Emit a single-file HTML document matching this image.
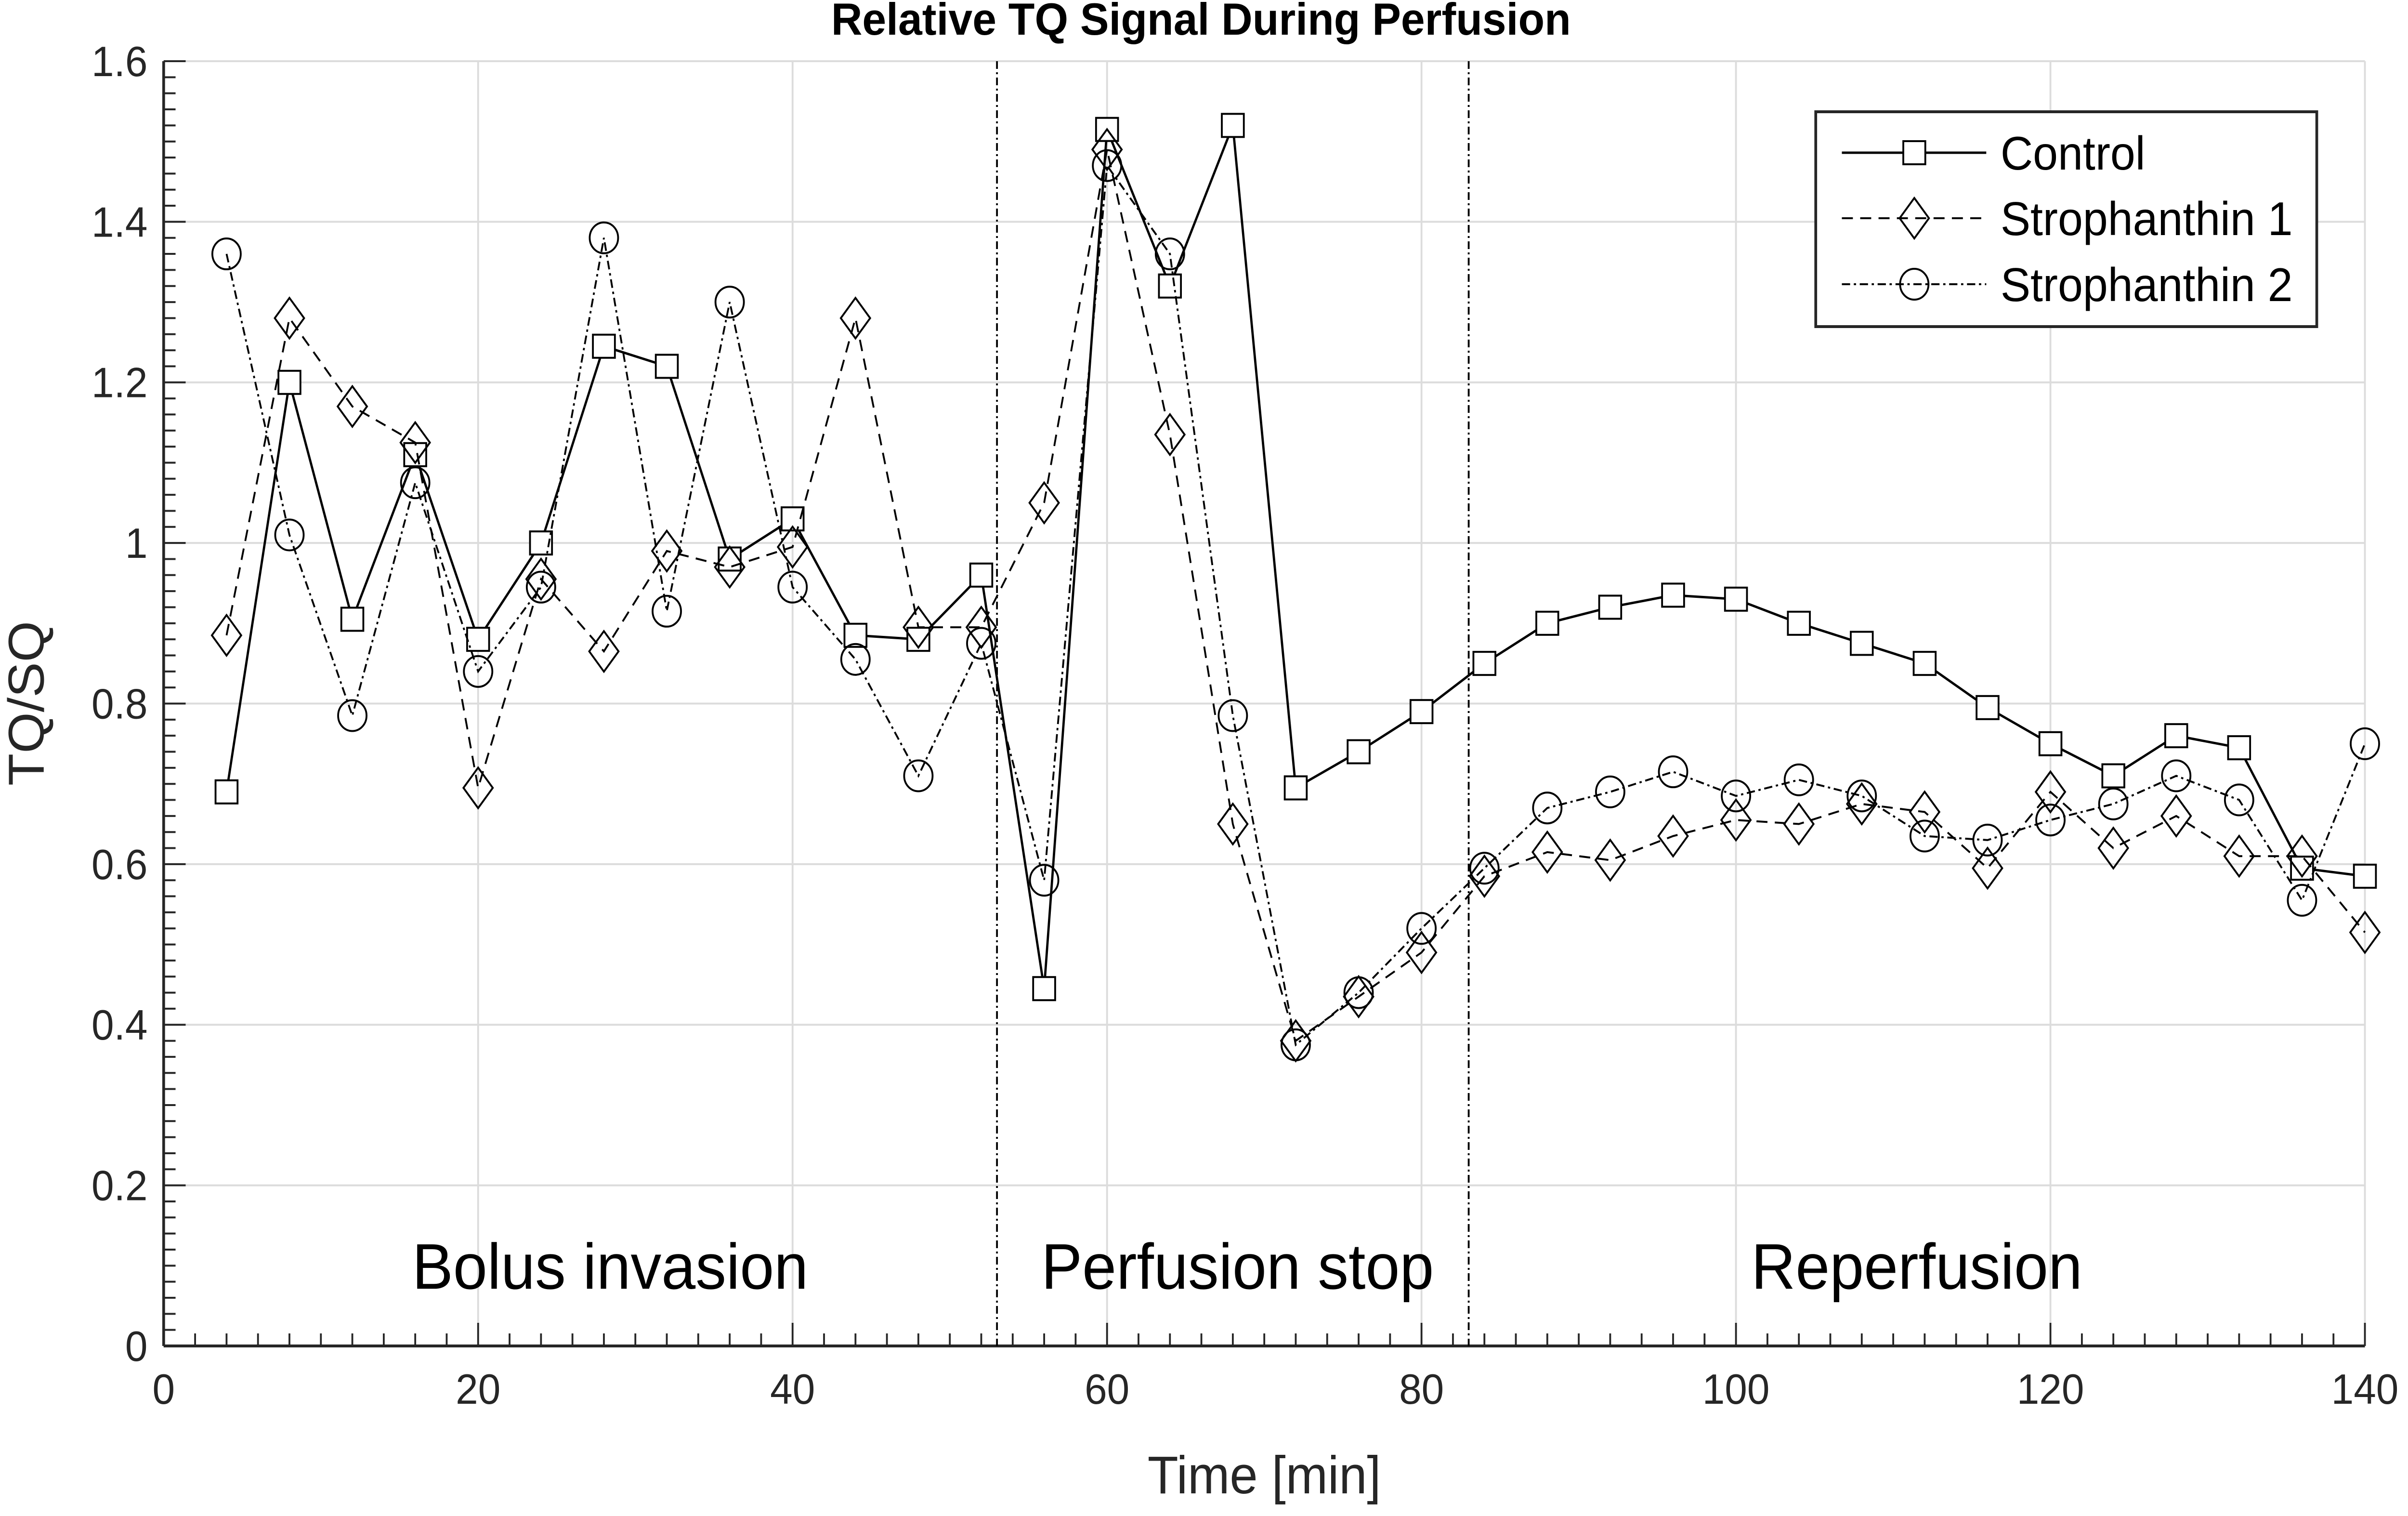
<!DOCTYPE html>
<html><head><meta charset="utf-8"><style>
html,body{margin:0;padding:0;background:#fff;width:100%;height:100%;overflow:hidden}
svg{display:block;position:fixed;left:0;top:0;width:100vw;height:100vh;font-family:"Liberation Sans",Arial,sans-serif}
</style></head><body>
<svg id="chart" viewBox="0 0 5253 3147" preserveAspectRatio="none" xmlns="http://www.w3.org/2000/svg">
<g id="grid"></g>
<g id="axes"></g>
<g id="series"></g>
<text x="2620" y="72" font-size="94" font-weight="bold" text-anchor="middle">Relative TQ Signal During Perfusion</text>
<text x="2758" y="3100" font-size="110" text-anchor="middle" fill="#262626">Time [min]</text>
<text transform="translate(95,1460) rotate(-90)" font-size="110" text-anchor="middle" fill="#262626">TQ/SQ</text>
<g id="legend"></g>
</svg>
<script>
const times = [4,8,12,16,20,24,28,32,36,40,44,48,52,56,60,64,68,72,76,80,84,88,92,96,100,104,108,112,116,120,124,128,132,136,140];
const control = [0.69,1.20,0.905,1.11,0.88,1.00,1.245,1.22,0.98,1.03,0.885,0.88,0.96,0.445,1.515,1.32,1.52,0.695,0.74,0.79,0.85,0.90,0.92,0.935,0.93,0.90,0.875,0.85,0.795,0.75,0.71,0.76,0.745,0.595,0.585];
const stroph1 = [0.885,1.28,1.17,1.125,0.695,0.955,0.865,0.99,0.97,0.995,1.28,0.895,0.895,1.05,1.49,1.135,0.65,0.38,0.435,0.49,0.585,0.615,0.605,0.635,0.655,0.65,0.675,0.665,0.595,0.69,0.62,0.66,0.61,0.61,0.515];
const stroph2 = [1.36,1.01,0.785,1.075,0.84,0.945,1.38,0.915,1.30,0.945,0.855,0.71,0.875,0.58,1.47,1.36,0.785,0.375,0.44,0.52,0.595,0.67,0.69,0.715,0.685,0.705,0.685,0.635,0.63,0.655,0.675,0.71,0.68,0.555,0.75];
const xTicks = [0,20,40,60,80,100,120,140];
const yTicks = [0,0.2,0.4,0.6,0.8,1,1.2,1.4,1.6];
const yTickLabels = ["0","0.2","0.4","0.6","0.8","1","1.2","1.4","1.6"];
const phaseBounds = [53,83];
const phaseLabels = ["Bolus invasion","Perfusion stop","Reperfusion"];
const phaseLabelX = [28.4,68.3,111.5];
const seriesNames = ["Control","Strophanthin 1","Strophanthin 2"];

const NS="http://www.w3.org/2000/svg";
const X0=357,X1=5159,Y0=2794,Y1=127;
const sx=v=>X0+(v-0)/(140-0)*(X1-X0);
const sy=v=>Y0-(v-0)/(1.6-0)*(Y0-Y1);
function mk(tag,attrs,parent){const e=document.createElementNS(NS,tag);for(const k in attrs)e.setAttribute(k,attrs[k]);parent.appendChild(e);return e;}
const grid=document.getElementById('grid'),axes=document.getElementById('axes'),ser=document.getElementById('series'),leg=document.getElementById('legend');
mk('rect',{x:X0,y:Y1,width:X1-X0,height:Y0-Y1,fill:'#fff'},grid);
xTicks.forEach(t=>{const l=mk('line',{x1:sx(t),x2:sx(t),y1:Y1,y2:Y0,stroke:'#dcdcdc','stroke-width':4},grid);

});
yTicks.forEach(t=>{const l=mk('line',{x1:X0,x2:X1,y1:sy(t),y2:sy(t),stroke:'#dcdcdc','stroke-width':4},grid);

});
for(let t=0;t<=140;t+=2){const maj=t%20===0;mk('line',{x1:sx(t),x2:sx(t),y1:Y0,y2:Y0-(maj?48:26),stroke:'#262626','stroke-width':4},axes);}
for(let i=0;i<=80;i++){const t=i*0.02;const maj=i%10===0;mk('line',{x1:X0,x2:X0+(maj?48:26),y1:sy(t),y2:sy(t),stroke:'#262626','stroke-width':4},axes);}
mk('line',{x1:X0,x2:X1,y1:Y0,y2:Y0,stroke:'#262626','stroke-width':6},axes);
mk('line',{x1:X0,x2:X0,y1:Y1,y2:Y0,stroke:'#262626','stroke-width':6},axes);
xTicks.forEach(t=>{const e=mk('text',{x:sx(t),y:Y0+120,'font-size':88,'text-anchor':'middle',fill:'#262626'},axes);e.textContent=t;

});
yTicks.forEach((t,i)=>{const e=mk('text',{x:X0-35,y:sy(t)+31,'font-size':88,'text-anchor':'end',fill:'#262626'},axes);e.textContent=yTickLabels[i];

});
phaseBounds.forEach(b=>{const l=mk('line',{x1:sx(b),x2:sx(b),y1:Y1,y2:Y0,stroke:'#000','stroke-width':4,'stroke-dasharray':'16 7 4 7'},ser);

});
phaseLabels.forEach((p,i)=>{const e=mk('text',{x:sx(phaseLabelX[i]),y:sy(0.1)+48,'font-size':134,'text-anchor':'middle',fill:'#000'},ser);e.textContent=p;

});
const dashes=['none','24 16','18 8 5 8'];
function marker(type,cx,cy,g){
 if(type===0) return mk('rect',{x:cx-24,y:cy-24,width:48,height:48,fill:'#fff',stroke:'#000','stroke-width':4},g);
 if(type===1) return mk('polygon',{points:`${cx},${cy-42} ${cx+32},${cy} ${cx},${cy+42} ${cx-32},${cy}`,fill:'none',stroke:'#000','stroke-width':4},g);
 return mk('ellipse',{cx:cx,cy:cy,rx:31,ry:32,fill:'none',stroke:'#000','stroke-width':4},g);
}
[control,stroph1,stroph2].forEach((vals,si)=>{
 const g=mk('g',{},ser);
 
 
 const pts=vals.map((v,i)=>sx(times[i])+','+sy(v)).join(' ');
 const pl=mk('polyline',{points:pts,fill:'none',stroke:'#000','stroke-width':si===0?5:4,'stroke-dasharray':dashes[si]},g);
 
 
 vals.forEach((v,i)=>{const m=marker(si,sx(times[i]),sy(v),g);
 
 });
});
const lb=mk('rect',{x:3961,y:232,width:1093,height:446,fill:'#fff',stroke:'#262626','stroke-width':6},leg);


const rowsY=[317,453,590];
seriesNames.forEach((n,i)=>{
 const g=mk('g',{},leg);
 
 
 mk('line',{x1:4018,x2:4333,y1:rowsY[i],y2:rowsY[i],stroke:'#000','stroke-width':i===0?5:4,'stroke-dasharray':dashes[i]},g);
 marker(i,4176,rowsY[i],g);
 const t=mk('text',{x:4364,y:rowsY[i]+35,'font-size':98,fill:'#000'},g);t.textContent=n;
});
</script>
</body></html>
